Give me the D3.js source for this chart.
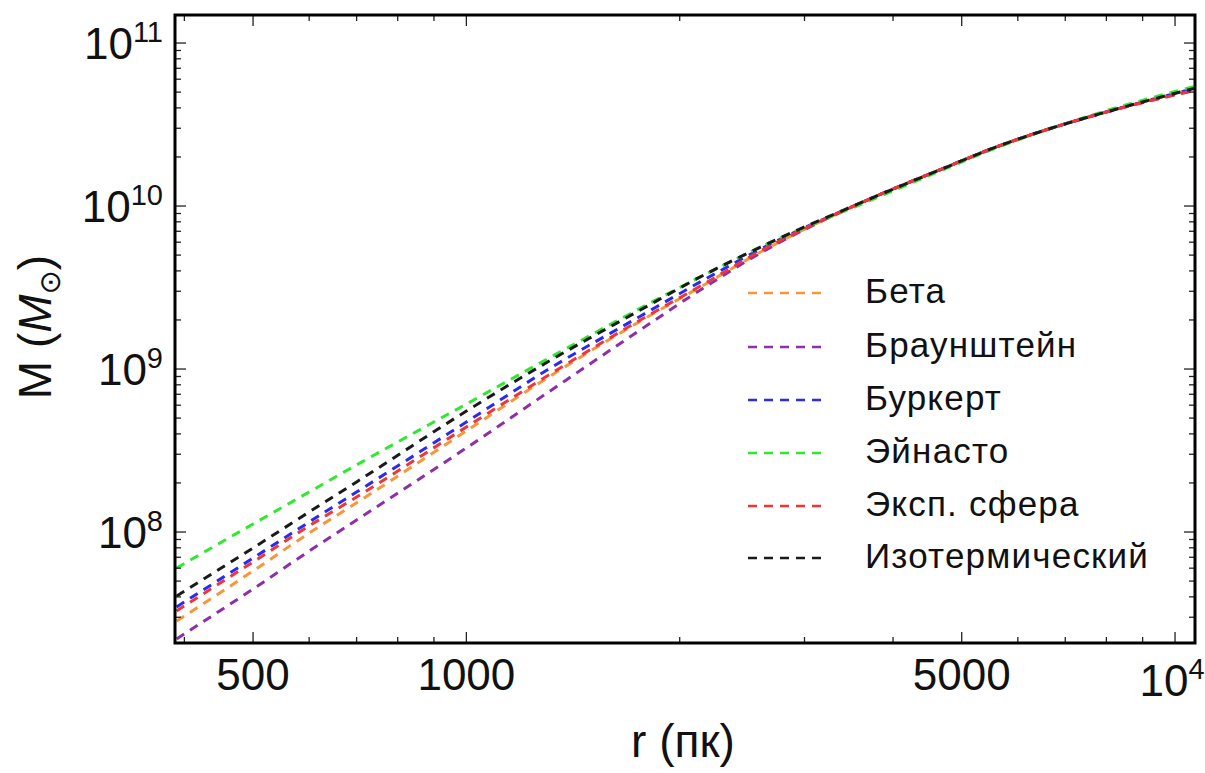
<!DOCTYPE html>
<html>
<head>
<meta charset="utf-8">
<script src="https://cdn.jsdelivr.net/npm/d3@7"></script>
<style>
  body { margin: 0; background: #fff; }
  text { font-family: "Liberation Sans", Arial, sans-serif; fill: #111; }
</style>
</head>
<body>
<div id="chart"></div>
<script>
// radius in pc
var radii = [390, 500, 600, 700, 1000, 1300, 1750, 2150, 2600, 3700, 4800, 5500, 6700, 7900, 10700];

// enclosed mass, solar masses
var beta       = [2.84e7, 5.77e7, 9.86e7, 1.51e8, 4.17e8, 8.81e8, 1.94e9, 3.23e9, 5.22e9, 1.10e10, 1.76e10, 2.24e10, 3.01e10, 3.72e10, 5.30e10];
var brownstein = [2.21e7, 4.47e7, 7.64e7, 1.185e8, 3.28e8, 7.13e8, 1.71e9, 3.10e9, 5.15e9, 1.10e10, 1.76e10, 2.24e10, 3.01e10, 3.72e10, 5.15e10];
var burkert    = [3.47e7, 6.92e7, 1.152e8, 1.76e8, 4.73e8, 9.86e8, 2.08e9, 3.47e9, 5.44e9, 1.10e10, 1.76e10, 2.24e10, 3.01e10, 3.72e10, 5.30e10];
var einasto    = [6.01e7, 1.12e8, 1.76e8, 2.58e8, 6.10e8, 1.15e9, 2.33e9, 3.72e9, 5.60e9, 1.075e10, 1.73e10, 2.21e10, 3.01e10, 3.78e10, 5.45e10];
var expSphere  = [3.28e7, 6.55e7, 1.09e8, 1.64e8, 4.41e8, 9.06e8, 1.97e9, 3.27e9, 5.30e9, 1.10e10, 1.76e10, 2.24e10, 3.01e10, 3.72e10, 5.15e10];
var isothermal = [4.05e7, 7.98e7, 1.327e8, 2.03e8, 5.52e8, 1.10e9, 2.27e9, 3.72e9, 5.60e9, 1.10e10, 1.76e10, 2.24e10, 3.01e10, 3.72e10, 5.30e10];

var seriesNames = ["Бета", "Браунштейн", "Буркерт", "Эйнасто", "Эксп. сфера", "Изотермический"];
var seriesValues = [beta, brownstein, burkert, einasto, expSphere, isothermal];
var seriesColors = ["#f7963a", "#8e2fa8", "#2a2af0", "#2fe82f", "#f03535", "#1a1a1a"];

var xMajor = [500, 1000, 5000, 10000];
var xMinor = [400, 600, 700, 800, 900, 2000, 3000, 4000, 6000, 7000, 8000, 9000];
var yMajor = [1e8, 1e9, 1e10, 1e11];

var svgWidth = 1205, svgHeight = 773;
var plotLeft = 175, plotRight = 1195, plotTop = 15, plotBottom = 643;

var svg = d3.select("#chart").append("svg")
    .attr("width", svgWidth)
    .attr("height", svgHeight);

svg.append("rect").attr("width", svgWidth).attr("height", svgHeight).attr("fill", "#fff");

var x = d3.scaleLog().domain([388, 10670]).range([plotLeft, plotRight]);
var y = d3.scaleLog().domain([2.085e7, 1.486e11]).range([plotBottom, plotTop]);

// minor y ticks: 2..9 x 10^n inside the domain
var yMinor = [];
[1e7, 1e8, 1e9, 1e10].forEach(function (p) {
    for (var k = 2; k <= 9; k++) {
        var v = k * p;
        if (v > y.domain()[0] && v < y.domain()[1]) yMinor.push(v);
    }
});

svg.append("clipPath").attr("id", "clip")
    .append("rect").attr("x", plotLeft).attr("y", plotTop)
    .attr("width", plotRight - plotLeft).attr("height", plotBottom - plotTop);

var line = d3.line()
    .x(function (d) { return x(d[0]); })
    .y(function (d) { return y(d[1]); })
    .curve(d3.curveMonotoneX);

var plot = svg.append("g").attr("clip-path", "url(#clip)");
seriesValues.forEach(function (vals, i) {
    plot.append("path")
        .datum(radii.map(function (r, j) { return [r, vals[j]]; }))
        .attr("d", line)
        .attr("fill", "none")
        .attr("stroke", seriesColors[i])
        .attr("stroke-width", 3)
        .attr("stroke-dasharray", "9,7");
});

// ticks (pointing inward, on all four sides)
var ticks = svg.append("g").attr("stroke", "#222").attr("stroke-width", 1.3);
function xTick(v, len) {
    ticks.append("line").attr("x1", x(v)).attr("x2", x(v)).attr("y1", plotBottom).attr("y2", plotBottom - len);
    ticks.append("line").attr("x1", x(v)).attr("x2", x(v)).attr("y1", plotTop).attr("y2", plotTop + len);
}
function yTick(v, len) {
    ticks.append("line").attr("y1", y(v)).attr("y2", y(v)).attr("x1", plotLeft).attr("x2", plotLeft + len);
    ticks.append("line").attr("y1", y(v)).attr("y2", y(v)).attr("x1", plotRight).attr("x2", plotRight - len);
}
xMajor.forEach(function (v) { xTick(v, 11); });
xMinor.forEach(function (v) { xTick(v, 6); });
yMajor.forEach(function (v) { yTick(v, 11); });
yMinor.forEach(function (v) { yTick(v, 6); });

// frame
svg.append("rect")
    .attr("x", plotLeft).attr("y", plotTop)
    .attr("width", plotRight - plotLeft).attr("height", plotBottom - plotTop)
    .attr("fill", "none").attr("stroke", "#000").attr("stroke-width", 3);

// y tick labels
yMajor.forEach(function (v) {
    var t = svg.append("text")
        .attr("x", 163).attr("y", y(v) + 16)
        .attr("text-anchor", "end")
        .style("font-size", "44px");
    t.append("tspan").text("10");
    t.append("tspan").attr("dy", -17).style("font-size", "29px").text(Math.round(Math.log10(v)));
});

// x tick labels
xMajor.forEach(function (v) {
    var t = svg.append("text")
        .attr("text-anchor", "middle")
        .style("font-size", "44px");
    if (v === 10000) {
        t.attr("x", x(v) - 3).attr("y", 696);
        t.append("tspan").text("10");
        t.append("tspan").attr("dy", -17).style("font-size", "29px").text("4");
    } else {
        t.attr("x", x(v)).attr("y", 690).text(v);
    }
});

// axis titles
svg.append("text")
    .attr("x", 683).attr("y", 757)
    .attr("text-anchor", "middle")
    .style("font-size", "46px")
    .text("r (пк)");

var yt = svg.append("text")
    .attr("transform", "translate(51,327) rotate(-90)")
    .attr("text-anchor", "middle")
    .style("font-size", "46px");
yt.append("tspan").text("M (");
yt.append("tspan").style("font-style", "italic").text("M");
yt.append("tspan").attr("dy", 9).style("font-size", "29px").style("font-family", "DejaVu Sans").text("⊙");
yt.append("tspan").attr("dy", -9).text(")");

// legend
var legendY = [293, 347, 400, 453, 506, 558];
seriesNames.forEach(function (name, i) {
    svg.append("line")
        .attr("x1", 748).attr("x2", 823)
        .attr("y1", legendY[i]).attr("y2", legendY[i])
        .attr("stroke", seriesColors[i])
        .attr("stroke-width", 2.6)
        .attr("stroke-dasharray", "9,7");
    svg.append("text")
        .attr("x", 865).attr("y", legendY[i] + 10)
        .style("font-size", "35px")
        .style("letter-spacing", "1.2px")
        .text(name);
});
</script>
</body>
</html>
